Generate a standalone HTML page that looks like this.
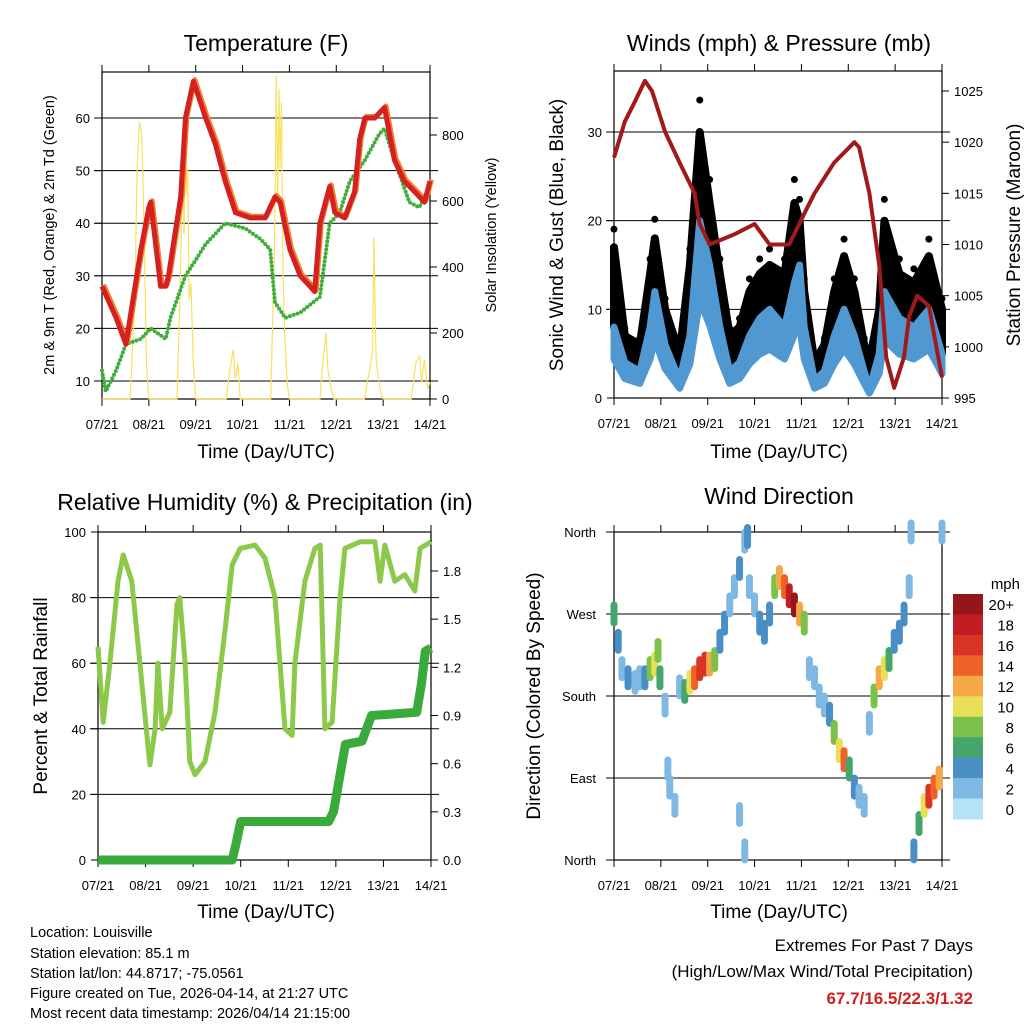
<!DOCTYPE html>
<html><head><meta charset="utf-8"><style>
body{margin:0;background:#fff;width:1024px;height:1024px;overflow:hidden}
svg{font-family:"Liberation Sans",sans-serif}
</style></head><body>
<svg id="s" width="1024" height="1024" viewBox="0 0 1024 1024">
<g id="g"></g>
<text x="266" y="51" font-size="23" text-anchor="middle">Temperature (F)</text>
<text x="779" y="51" font-size="23" text-anchor="middle">Winds (mph) &amp; Pressure (mb)</text>
<text x="265" y="510" font-size="23" text-anchor="middle">Relative Humidity (%) &amp; Precipitation (in)</text>
<text x="779" y="504" font-size="23" text-anchor="middle">Wind Direction</text>
<text x="266" y="458" font-size="19" text-anchor="middle">Time (Day/UTC)</text>
<text x="779" y="458" font-size="19" text-anchor="middle">Time (Day/UTC)</text>
<text x="266" y="918" font-size="19" text-anchor="middle">Time (Day/UTC)</text>
<text x="779" y="918" font-size="19" text-anchor="middle">Time (Day/UTC)</text>
<text transform="translate(54,235) rotate(-90)" font-size="14.5" text-anchor="middle">2m &amp; 9m T (Red, Orange) &amp; 2m Td (Green)</text>
<text transform="translate(496,235) rotate(-90)" font-size="14.5" text-anchor="middle">Solar Insolation (Yellow)</text>
<text transform="translate(563,235) rotate(-90)" font-size="19" text-anchor="middle">Sonic Wind &amp; Gust (Blue, Black)</text>
<text transform="translate(1020,235) rotate(-90)" font-size="19" text-anchor="middle">Station Pressure (Maroon)</text>
<text transform="translate(47,696) rotate(-90)" font-size="19" text-anchor="middle">Percent &amp; Total Rainfall</text>
<text transform="translate(540,696) rotate(-90)" font-size="19" text-anchor="middle">Direction (Colored By Speed)</text>
<g font-size="14.5">
<text x="30" y="937">Location: Louisville</text>
<text x="30" y="958">Station elevation: 85.1 m</text>
<text x="30" y="978">Station lat/lon: 44.8717; -75.0561</text>
<text x="30" y="998">Figure created on Tue, 2026-04-14, at 21:27 UTC</text>
<text x="30" y="1018">Most recent data timestamp: 2026/04/14 21:15:00</text>
</g>
<g font-size="17" text-anchor="end">
<text x="973" y="951">Extremes For Past 7 Days</text>
<text x="973" y="977">(High/Low/Max Wind/Total Precipitation)</text>
<text x="973" y="1004" fill="#d02020" font-weight="bold">67.7/16.5/22.3/1.32</text>
</g>
</svg>
<script>
const dayLabels=["07/21","08/21","09/21","10/21","11/21","12/21","13/21","14/21"];
const tempT=[0,.3,.51,.83,1.0,1.04,1.25,1.36,1.42,1.68,1.78,1.95,2.21,2.42,2.63,2.85,3.16,3.48,3.69,3.8,4.01,4.23,4.44,4.54,4.65,4.86,4.97,5.18,5.39,5.5,5.61,5.82,6.03,6.24,6.45,6.67,6.88,7];
const tempV=[28,22,17,35,43,44,28,28,30,45,60,67,60,55,48,42,41,41,45,44,35,30,28,27,40,47,42,41,46,56,60,60,62,52,48,46,44,48];
const dewT=[0,.08,.3,.51,.83,1.04,1.36,1.46,1.78,2.0,2.21,2.42,2.63,3.06,3.38,3.59,3.69,3.91,4.23,4.65,4.86,5.07,5.29,5.61,5.92,6.03,6.24,6.56,6.77,7];
const dewV=[12,8,12,17,18,20,18,22,30,33,36,38,40,39,37,35,25,22,23,26,40,42,48,52,57,58,52,44,43,47];
const solT=[0,.6,.7,.75,.8,.85,.9,.95,1.0,1.6,1.68,1.72,1.75,1.78,1.8,1.83,1.86,1.9,1.95,2.0,2.65,2.72,2.8,2.85,2.9,2.95,3.6,3.68,3.72,3.75,3.78,3.8,3.83,3.86,3.9,3.95,4.0,4.65,4.72,4.78,4.82,4.88,4.95,5.6,5.7,5.78,5.8,5.85,5.9,5.95,6.0,6.6,6.7,6.78,6.82,6.88,6.95,7];
const solV=[0,0,300,700,840,800,500,100,0,0,400,750,500,850,620,700,300,350,100,0,0,80,150,60,110,0,0,450,980,600,940,700,900,400,200,50,0,0,120,200,90,40,0,0,80,150,490,120,60,20,0,0,110,130,50,120,30,50];
const windT=[0,.23,.55,.77,.87,1.09,1.4,1.62,1.83,2.04,2.26,2.47,2.68,2.89,3.11,3.32,3.64,3.85,3.96,4.06,4.28,4.49,4.7,4.91,5.13,5.34,5.45,5.66,5.77,6.09,6.4,6.72,7];
const windMean=[8,4,3,8,12,6,2,7,20,15,8,3,4,7,9,10,8,13,15,8,2,3,7,10,7,3,1,5,12,9,8,10,5];
const windGust=[17,7,6,14,18,10,5,15,30,22,14,7,8,12,14,15,14,22,20,12,4,6,12,16,12,6,4,10,20,14,13,16,10];
const presT=[0,.23,.45,.66,.81,1.09,1.4,1.72,1.83,2.04,2.57,3.0,3.32,3.74,4.06,4.28,4.7,5.13,5.23,5.45,5.66,5.81,5.98,6.19,6.3,6.47,6.72,7.0];
const presV=[1018.5,1022,1024,1026,1025,1021,1018,1015,1012,1010,1011,1012,1010,1010,1013,1015,1018,1020,1019.5,1015,1008,999,996,999,1003,1005,1004,997];
const rhT=[0,.11,.25,.42,.53,.71,.88,1.05,1.09,1.2,1.26,1.35,1.51,1.66,1.72,1.83,1.93,2.04,2.25,2.46,2.67,2.82,2.99,3.3,3.51,3.72,3.93,4.08,4.14,4.35,4.56,4.67,4.77,4.92,5.09,5.19,5.51,5.82,5.93,6.03,6.24,6.45,6.66,6.77,7];
const rhV=[65,42,60,85,93,85,60,35,29,40,60,40,45,78,80,60,30,26,30,45,70,90,95,96,92,80,40,38,60,85,95,96,40,42,80,95,97,97,85,96,85,87,82,95,97];
const prT=[0,2.82,2.9,3.0,4.85,4.95,5.2,5.55,5.75,6.7,6.8,6.88,7];
const prV=[0,0,0.1,0.24,0.24,0.3,0.72,0.74,0.9,0.92,1.1,1.3,1.32];
const wdT=[0,.09,.17,.3,.45,.55,.66,.77,.87,.94,.98,1.09,1.15,1.19,1.3,1.4,1.51,1.62,1.72,1.83,1.94,2.04,2.15,2.26,2.36,2.47,2.57,2.68,2.79,2.85,2.68,2.79,2.89,3.0,3.11,3.21,3.32,3.43,3.53,3.64,3.74,3.85,3.96,4.06,4.17,4.28,4.38,4.49,4.6,4.7,4.81,4.91,5.02,5.13,5.23,5.34,5.45,5.55,5.66,5.77,5.87,5.98,6.09,6.19,6.3,6.34,6.4,6.51,6.62,6.72,6.83,6.94,7.0];
const wdDir=[270,240,210,200,195,200,200,210,215,230,200,170,100,80,60,190,185,195,200,210,215,215,220,240,260,280,300,320,350,355,50,10,300,280,260,250,270,300,310,300,290,280,270,260,210,200,180,170,160,140,120,110,100,80,70,60,150,180,200,210,220,240,250,270,300,360,10,40,60,70,80,90,360];
const wdSpd=[6,4,3,4,3,2,5,8,10,9,6,2,2,2,2,3,6,10,14,17,16,12,8,5,4,3,3,4,3,4,2,2,3,3,4,4,5,8,12,14,18,20,12,8,3,2,2,3,4,8,10,14,6,4,3,2,3,8,12,10,6,4,5,4,3,3,4,6,10,16,14,12,2];
const tempTicks=[10,20,30,40,50,60];
const solTicks=[0,200,400,600,800];
const windTicks=[0,10,20,30];
const presTicks=[995,1000,1005,1010,1015,1020,1025];
const rhTicks=[0,20,40,60,80,100];
const prTicks=[0.0,0.3,0.6,0.9,1.2,1.5,1.8];
const wdTicks=["North","East","South","West","North"];
const cbLabels=["20+","18","16","14","12","10","8","6","4","2","0"];
const cbColors=["#95161a","#c21c24","#da3327","#ee6229","#f6a746","#e8de57","#7cc24a","#46a56c","#4a8ec6","#7fb9e3","#b6e2f7"];

const NS="http://www.w3.org/2000/svg";const G=document.getElementById('g');
function mk(tag,at,p){const e=document.createElementNS(NS,tag);for(const k in at)e.setAttribute(k,at[k]);(p||G).appendChild(e);return e;}
function lin(d0,d1,r0,r1){return v=>r0+(v-d0)/(d1-d0)*(r1-r0);}
function path(xs,ys,fx,fy){return xs.map((t,i)=>(i?'L':'M')+fx(t).toFixed(1)+','+fy(ys[i]).toFixed(1)).join('');}
function band(xs,lo,hi,fx,fy){let d=xs.map((t,i)=>(i?'L':'M')+fx(t).toFixed(1)+','+fy(hi[i]).toFixed(1)).join('');
 for(let i=xs.length-1;i>=0;i--)d+='L'+fx(xs[i]).toFixed(1)+','+fy(lo[i]).toFixed(1);return d+'Z';}
function frame(L,R,T,B,name){
 const f=mk('rect',{x:L,y:T,width:R-L,height:B-T,fill:'none',stroke:'#000','stroke-width':1.2});
 
 
 const fx=lin(0,7,L,R);
 dayLabels.forEach((d,i)=>{const x=fx(i);
  mk('line',{x1:x,x2:x,y1:B,y2:B+7,stroke:'#000'});mk('line',{x1:x,x2:x,y1:T,y2:T-7,stroke:'#000'});
  const t=mk('text',{x:x,y:B+30,'font-size':13,'text-anchor':'middle'});t.textContent=d;
  
  });
 return fx;}
function grid(L,R,ys){ys.forEach(y=>mk('line',{x1:L-8,x2:R+8,y1:y,y2:y,stroke:'#000','stroke-width':1}));}
function lticks(x,vals,fy,fmt,side){vals.forEach(v=>{const y=fy(v);
 mk('line',{x1:x,x2:x+(side<0?-7:7),y1:y,y2:y,stroke:'#000'});
 const t=mk('text',{x:side<0?x-12:x+12,y:y+5,'font-size':13,'text-anchor':side<0?'end':'start'});t.textContent=fmt(v);
 
 });}

// Panel 1 temperature
{const L=102,R=430,T=72,B=399;const fx=frame(L,R,T,B,'temperature');
 const fy=lin(10,60,381,118);const fs=lin(0,800,B,135);
 grid(L,R,tempTicks.map(fy));lticks(L,tempTicks,fy,v=>v,-1);lticks(R,solTicks,fs,v=>v,1);
 const s=mk('path',{d:path(solT,solV,fx,fs),fill:'none',stroke:'#f8e060','stroke-width':1.2});
 
 
 const d=mk('path',{d:path(dewT,dewV,fx,fy),fill:'none',stroke:'#3fae3a','stroke-width':4,'stroke-dasharray':'0 4','stroke-linecap':'round'});
 
 
 const o=mk('path',{d:path(tempT,tempV,fx,fy),fill:'none',stroke:'#f08030','stroke-width':5,transform:'translate(1.5,-1.5)','stroke-linejoin':'round'});
 
 
 const r=mk('path',{d:path(tempT,tempV,fx,fy),fill:'none',stroke:'#d42020','stroke-width':5,'stroke-linejoin':'round'});
 
 }

// Panel 2 winds
{const L=614,R=942,T=71,B=398;const fx=frame(L,R,T,B,'winds');
 const fy=lin(0,30,B,132);const fp=lin(995,1025,B,91);
 grid(L,R,windTicks.slice(1).map(fy));lticks(L,windTicks,fy,v=>v,-1);lticks(R,presTicks,fp,v=>v,1);
 const g=mk('path',{d:band(windT,windMean,windGust,fx,fy),fill:'#000',stroke:'#000','stroke-width':8,'stroke-linejoin':'round'});
 
 
 windT.forEach((t,i)=>{const c=mk('circle',{cx:fx(t),cy:fy(windGust[i]*1.12),r:3.5,fill:'#000'});
  
  });
 const m=mk('path',{d:band(windT,windMean.map(v=>v*0.55),windMean,fx,fy),fill:'#4f98d2',stroke:'#4f98d2','stroke-width':7,'stroke-linejoin':'round'});
 
 
 const p=mk('path',{d:path(presT,presV,fx,fp),fill:'none',stroke:'#a01a1a','stroke-width':4,'stroke-linejoin':'round'});
 
 }

// Panel 3 RH
{const L=98,R=431,T=532,B=860;const fx=frame(L,R,T,B,'humidity');
 const fy=lin(0,100,B,T);const fp=lin(0,1.8,B,571);
 grid(L,R,[20,40,60,80].map(fy));lticks(L,rhTicks,fy,v=>v,-1);lticks(R,prTicks,fp,v=>v.toFixed(1),1);
 const h=mk('path',{d:path(rhT,rhV,fx,fy),fill:'none',stroke:'#8cc84a','stroke-width':5,'stroke-linejoin':'round'});
 
 
 const p=mk('path',{d:path(prT,prV,fx,fp),fill:'none',stroke:'#3aaa3a','stroke-width':9,'stroke-linejoin':'round'});
 
 }

// Panel 4 wind direction
{const L=614,R=942,T=532,B=860;const fx=frame(L,R,T,B,'wind-direction');
 const fy=lin(0,360,B,T);
 grid(L,R,[90,180,270,0,360].map(fy));
 wdTicks.forEach((n,i)=>{const t=mk('text',{x:L-18,y:fy(i*90)+5,'font-size':13,'text-anchor':'end'});t.textContent=n;
  
  });
 const col=s=>cbColors[10-Math.max(0,Math.min(10,Math.floor(s/2)))];
 wdT.forEach((t,i)=>{const x=fx(t),y=fy(wdDir[i]);
  const l=mk('line',{x1:x,x2:x,y1:y-9,y2:y+9,stroke:col(wdSpd[i]),'stroke-width':7,'stroke-linecap':'round'});
  
  });
 const cb=mk('g',{});
 const h=225/cbColors.length;
 cbColors.forEach((c,i)=>{mk('rect',{x:953,y:594+i*h,width:30,height:h+0.5,fill:c},cb);
  const t=mk('text',{x:1014,y:594+i*h+h/2+6,'font-size':15,'text-anchor':'end'},cb);t.textContent=cbLabels[i];});
 const u=mk('text',{x:1020,y:589,'font-size':15,'text-anchor':'end'},cb);u.textContent='mph';}
</script>
</body></html>
